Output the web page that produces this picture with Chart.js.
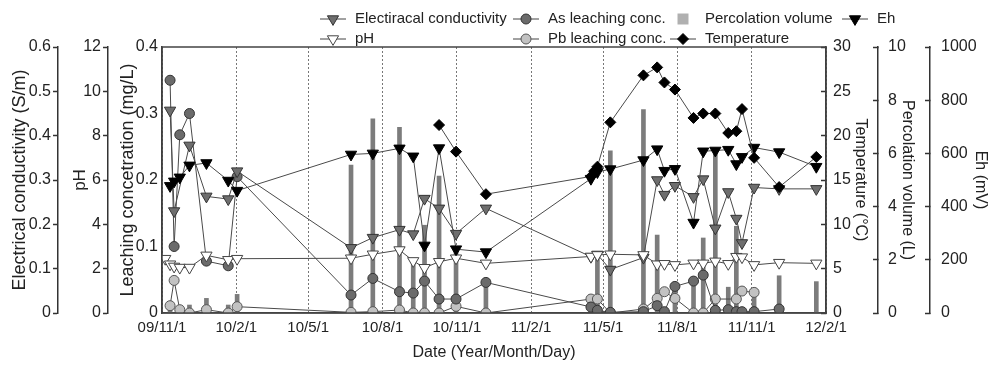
<!DOCTYPE html>
<html>
<head>
<meta charset="utf-8">
<script src="https://cdn.jsdelivr.net/npm/chart.js@4.4.0/dist/chart.umd.min.js"></script>
<style>
  html, body { margin: 0; padding: 0; background: #fff; }
</style>
</head>
<body>
<canvas id="chart" width="990" height="367"></canvas>
<script>
// sampling dates and measured values (null = not measured / not visible)
const sampleDates = ['2009-11-05','2009-11-11','2009-11-16','2009-11-23','2009-12-05','2009-12-26','2010-01-22','2010-02-02',
  '2010-06-23','2010-07-20','2010-08-22','2010-09-08','2010-09-22','2010-10-10','2010-10-31','2010-12-07',
  '2011-04-16','2011-04-20','2011-04-24','2011-05-10','2011-06-20','2011-07-07','2011-07-16','2011-07-29',
  '2011-08-21','2011-09-02','2011-09-17','2011-10-03','2011-10-13','2011-10-20','2011-11-04','2011-12-05','2012-01-20'];
const ecValues = [null,0.457,0.23,null,0.378,0.263,0.257,0.32,0.147,0.170,0.188,0.178,0.258,0.236,0.179,0.236,
  0.127,null,0.132,0.098,0.125,0.300,0.267,0.287,0.262,0.302,0.191,0.273,0.213,0.158,0.283,0.280,0.280];
const phValues = [2.45,2.2,2.1,2.05,2.05,2.6,2.4,2.45,2.47,2.65,2.84,2.35,2.04,2.31,2.47,2.24,
  2.55,null,2.62,2.65,2.62,2.2,2.22,2.17,2.24,2.24,2.33,2.22,2.54,2.52,2.17,2.27,2.24];
const asValues = [null,0.35,0.10,0.268,0.30,0.078,0.071,0.205,0.027,0.052,0.032,0.030,0.048,0.021,0.021,0.046,
  0.009,null,0.004,0.001,0.002,0.011,0.002,0.040,0.048,0.057,0.004,0.005,0.002,0.002,0.002,0.006,null];
const pbValues = [null,0.011,0.049,0.005,0.0,0.005,0.0,0.0095,0.001,0.002,0.0045,0.0,0.0,0.0,0.010,0.0,
  0.021,null,0.021,0.0,0.006,0.022,0.032,0.022,0.0,0.0,0.021,null,0.021,0.033,0.031,null,null];
const tempValues = [null,null,null,null,null,null,null,null,null,null,null,null,null,21.2,18.2,13.4,
  15.4,16.0,16.5,21.5,26.8,27.7,26.0,25.2,22.0,22.5,22.5,20.3,20.5,23.0,17.5,14.2,17.6];
const ehValues = [null,478,495,510,555,564,498,460,596,600,619,589,254,620,240,229,
  505,null,530,541,575,616,535,542,340,608,611,614,560,587,622,605,550];
const volumeValues = [null,0.15,null,null,0.3,0.55,0.3,0.7,5.56,7.3,6.98,1.9,3.3,5.15,2.3,1.15,
  null,null,2.3,6.1,7.65,2.93,null,1.0,1.33,2.82,6.15,0.97,3.26,null,0.83,1.4,1.18];
const dateTicks = ['2009-11-01','2010-02-01','2010-05-01','2010-08-01','2010-11-01','2011-02-01','2011-05-01','2011-08-01','2011-11-01','2012-02-01'];

const FONT = "'Liberation Sans', Arial, sans-serif";
const day0 = Date.UTC(2009, 10, 1);

function toDay(s) {
  const [y, m, d] = s.split('-').map(Number);
  return (Date.UTC(y, m - 1, d) - day0) / 86400000;
}
function tickLabel(v) {
  const dt = new Date(day0 + v * 86400000);
  return String(dt.getUTCFullYear() % 100).padStart(2, '0') + '/' + (dt.getUTCMonth() + 1) + '/' + dt.getUTCDate();
}
function series(vals) {
  return sampleDates.map((d, i) => ({x: toDay(d), y: vals[i]})).filter(p => p.y !== null);
}

function yAxis(pos, weight, width, min, max, step, title, titleSize, titlePad, tickLen, tickPad) {
  return {
    type: 'linear', position: pos, weight: weight, min: min, max: max,
    afterFit: (s) => { s.width = width; },
    ticks: { stepSize: step, padding: tickPad, color: '#222', font: {family: FONT, size: 16},
             callback: (v) => String(Math.round(v * 100) / 100) },
    grid: { display: true, drawOnChartArea: false, drawTicks: tickLen !== 0, tickLength: tickLen, tickColor: '#333', tickWidth: 1.5 },
    border: { display: true, color: '#333', width: 1.5 },
    title: { display: true, text: title, color: '#222', font: {family: FONT, size: titleSize}, padding: {top: titlePad, bottom: 0} }
  };
}

// little marker helper for the hand placed legend
function marker(ctx, style, x, y, fill, stroke) {
  ctx.save();
  ctx.fillStyle = fill;
  ctx.strokeStyle = stroke;
  ctx.lineWidth = 1;
  ctx.beginPath();
  if (style === 'tri') {
    ctx.moveTo(x - 5.6, y - 3.2); ctx.lineTo(x + 5.6, y - 3.2); ctx.lineTo(x, y + 6.4); ctx.closePath();
  } else if (style === 'circle') {
    ctx.arc(x, y, 5, 0, Math.PI * 2);
  } else if (style === 'diamond') {
    ctx.moveTo(x, y - 5.5); ctx.lineTo(x + 5.5, y); ctx.lineTo(x, y + 5.5); ctx.lineTo(x - 5.5, y); ctx.closePath();
  } else {
    ctx.rect(x - 5.5, y - 5.5, 11, 11);
  }
  ctx.fill();
  if (style !== 'square') ctx.stroke();
  ctx.restore();
}

const legendItems = [
  {x: 333, y: 19, style: 'tri', fill: '#6e6e6e', stroke: '#333', text: 'Electiracal conductivity'},
  {x: 333, y: 39, style: 'tri', fill: '#fff', stroke: '#444', text: 'pH'},
  {x: 526, y: 19, style: 'circle', fill: '#6b6b6b', stroke: '#333', text: 'As leaching conc.'},
  {x: 526, y: 39, style: 'circle', fill: '#c2c2c2', stroke: '#555', text: 'Pb leaching conc.'},
  {x: 683, y: 19, style: 'square', fill: '#b0b0b0', stroke: '#b0b0b0', text: 'Percolation volume', noLine: true},
  {x: 683, y: 39, style: 'diamond', fill: '#000', stroke: '#000', text: 'Temperature'},
  {x: 855, y: 19, style: 'tri', fill: '#000', stroke: '#000', text: 'Eh'}
];

const framePlugin = {
  id: 'frameAndLegend',
  afterDatasetsDraw(chart) {
    const {ctx, chartArea: a} = chart;
    ctx.save();
    ctx.strokeStyle = '#444';
    ctx.lineWidth = 1.5;
    ctx.strokeRect(a.left, a.top, a.right - a.left, a.bottom - a.top);
    ctx.restore();
  },
  afterDraw(chart) {
    const ctx = chart.ctx;
    ctx.save();
    ctx.font = '15px ' + FONT;
    ctx.textBaseline = 'middle';
    ctx.fillStyle = '#222';
    legendItems.forEach(it => {
      if (!it.noLine) {
        ctx.strokeStyle = '#444';
        ctx.lineWidth = 1;
        ctx.beginPath();
        ctx.moveTo(it.x - 13, it.y); ctx.lineTo(it.x + 13, it.y);
        ctx.stroke();
      }
      marker(ctx, it.style, it.x, it.y, it.fill, it.stroke);
      ctx.fillStyle = '#222';
      ctx.fillText(it.text, it.x + 22, it.y);
    });
    ctx.restore();
  }
};

const lineBase = { type: 'line', borderColor: '#4a4a4a', borderWidth: 1, tension: 0, pointBorderWidth: 1 };

new Chart(document.getElementById('chart'), {
  type: 'line',
  data: {
    datasets: [
      Object.assign({}, lineBase, { label: 'Eh', data: series(ehValues), yAxisID: 'yEh', order: 1,
        pointStyle: 'triangle', pointRotation: 180, pointRadius: 6.5, pointBackgroundColor: '#000', pointBorderColor: '#000' }),
      Object.assign({}, lineBase, { label: 'Temperature', data: series(tempValues), yAxisID: 'yTemp', order: 0,
        pointStyle: 'rectRot', pointRadius: 5.5, pointBackgroundColor: '#000', pointBorderColor: '#000' }),
      Object.assign({}, lineBase, { label: 'pH', data: series(phValues), yAxisID: 'yPh', order: 2,
        pointStyle: 'triangle', pointRotation: 180, pointRadius: 6.5, pointBackgroundColor: '#fff', pointBorderColor: '#444' }),
      Object.assign({}, lineBase, { label: 'Electiracal conductivity', data: series(ecValues), yAxisID: 'yEc', order: 3,
        pointStyle: 'triangle', pointRotation: 180, pointRadius: 6.5, pointBackgroundColor: '#6e6e6e', pointBorderColor: '#333' }),
      Object.assign({}, lineBase, { label: 'As leaching conc.', data: series(asValues), yAxisID: 'yConc', order: 4,
        pointStyle: 'circle', pointRadius: 5, pointBackgroundColor: '#6b6b6b', pointBorderColor: '#333' }),
      Object.assign({}, lineBase, { label: 'Pb leaching conc.', data: series(pbValues), yAxisID: 'yConc', order: 5,
        pointStyle: 'circle', pointRadius: 5, pointBackgroundColor: '#c2c2c2', pointBorderColor: '#555' }),
      { type: 'bar', label: 'Percolation volume', data: series(volumeValues), yAxisID: 'yVol', order: 10,
        backgroundColor: '#7c7c7c', barThickness: 4, grouped: false }
    ]
  },
  options: {
    responsive: false,
    animation: false,
    events: [],
    layout: { padding: { top: 47, left: 0, right: 0, bottom: 0 } },
    plugins: { legend: { display: false }, tooltip: { enabled: false } },
    scales: {
      x: {
        type: 'linear', position: 'bottom', offset: false,
        min: 0, max: toDay('2012-02-01'),
        afterBuildTicks: (s) => { s.ticks = dateTicks.map(d => ({value: toDay(d)})); },
        afterFit: (s) => { s.height = 54; },
        ticks: { autoSkip: false, maxRotation: 0, padding: 6, color: '#222', font: {family: FONT, size: 15},
                 callback: (v) => tickLabel(v) },
        grid: { display: true, offset: false, drawOnChartArea: true, drawTicks: false, color: '#777', lineWidth: 1 },
        border: { display: true, color: '#444', width: 1.5, dash: [2, 2] },
        title: { display: true, text: 'Date (Year/Month/Day)', color: '#222', font: {family: FONT, size: 16}, padding: {top: 0, bottom: 5} }
      },
      yConc: yAxis('left', 0, 54, 0, 0.4, 0.1, 'Leaching concetration (mg/L)', 18, 9, 0, 4),
      yPh: yAxis('left', 1, 50, 0, 12, 2, 'pH', 17, 12, 5, 2),
      yEc: yAxis('left', 2, 58, 0, 0.6, 0.1, 'Electrical conductivity (S/m)', 18, 9, 5, 2),
      yTemp: yAxis('right', 0, 52, 0, 30, 5, 'Temperature (°C)', 16, 8, -5, 12),
      yVol: yAxis('right', 1, 52, 0, 10, 2, 'Percolation volume (L)', 16, 13, -5, 15),
      yEh: yAxis('right', 2, 60, 0, 1000, 200, 'Eh (mV)', 16, 0, -5, 16)
    }
  },
  plugins: [framePlugin]
});
</script>
</body>
</html>
